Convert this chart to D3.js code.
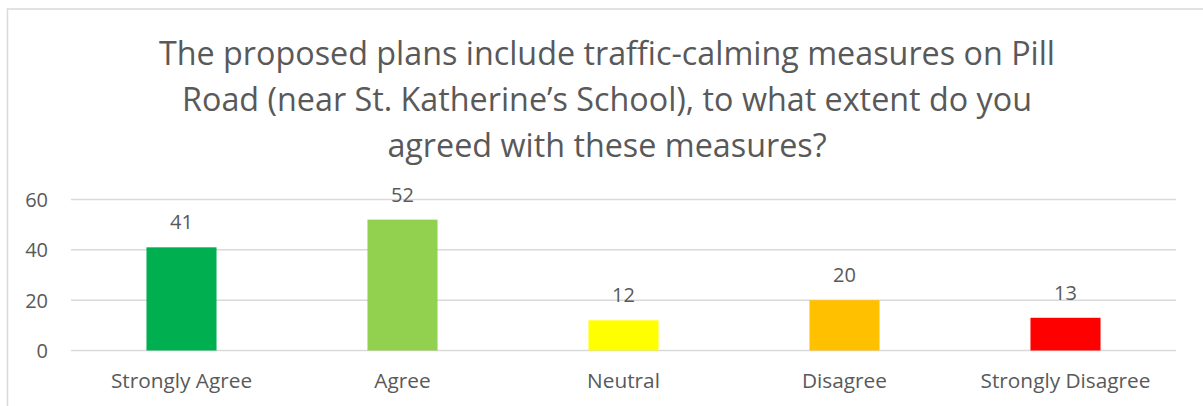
<!DOCTYPE html>
<html><head><meta charset="utf-8">
<script src="https://cdn.jsdelivr.net/npm/d3@7"></script>
<style>body{margin:0;background:#fff;}svg{display:block;}text{font-family:"Open Sans",sans-serif;fill:#595959;}</style>
</head><body>
<svg id="c" width="1203" height="406"></svg>
<script>
const categories = ["Strongly Agree","Agree","Neutral","Disagree","Strongly Disagree"];
const values = [41,52,12,20,13];
const colors = ["#00B050","#92D050","#FFFF00","#FFC000","#FF0000"];
const yTicks = [0,20,40,60];
const titleLines = ["The proposed plans include traffic-calming measures on Pill","Road (near St. Katherine\u2019s School), to what extent do you","agreed with these measures?"];

(function(){
const svg = d3.select("#c");
svg.append("rect").attr("x",7.5).attr("y",9).attr("width",1210).attr("height",420)
  .attr("fill","none").attr("stroke","#d9d9d9").attr("stroke-width",1.5);

const pL=71, pR=1176, pT=199.5, pB=350.5;
const x = d3.scaleBand().domain(categories).range([pL,pR]).paddingInner(0.683).paddingOuter(0.3415);
const y = d3.scaleLinear().domain([0,60]).range([pB,pT]);

svg.append("g").selectAll("line").data(yTicks).join("line")
  .attr("x1",pL).attr("x2",pR).attr("y1",d=>y(d)).attr("y2",d=>y(d))
  .attr("stroke","#d9d9d9").attr("stroke-width",1.5);

svg.append("g").selectAll("text").data(yTicks).join("text")
  .attr("x",48).attr("y",d=>y(d)+7.5).attr("text-anchor","end").attr("font-size",20).text(d=>d);

svg.append("g").selectAll("rect").data(values).join("rect")
  .attr("x",(d,i)=>x(categories[i])).attr("width",x.bandwidth())
  .attr("y",d=>y(d)).attr("height",d=>pB-y(d)).attr("fill",(d,i)=>colors[i]);

svg.append("g").selectAll("text").data(values).join("text")
  .attr("x",(d,i)=>x(categories[i])+x.bandwidth()/2).attr("y",d=>y(d)-18)
  .attr("text-anchor","middle").attr("font-size",20).attr("fill","#404040").text(d=>d);

svg.append("g").selectAll("text").data(categories).join("text")
  .attr("x",d=>x(d)+x.bandwidth()/2).attr("y",388)
  .attr("text-anchor","middle").attr("font-size",20.8).text(d=>d);

svg.append("g").selectAll("text").data(titleLines).join("text")
  .attr("x",607).attr("y",(d,i)=>65+i*46).attr("text-anchor","middle").attr("font-size",32.3).text(d=>d);
})();
</script>
</body></html>
